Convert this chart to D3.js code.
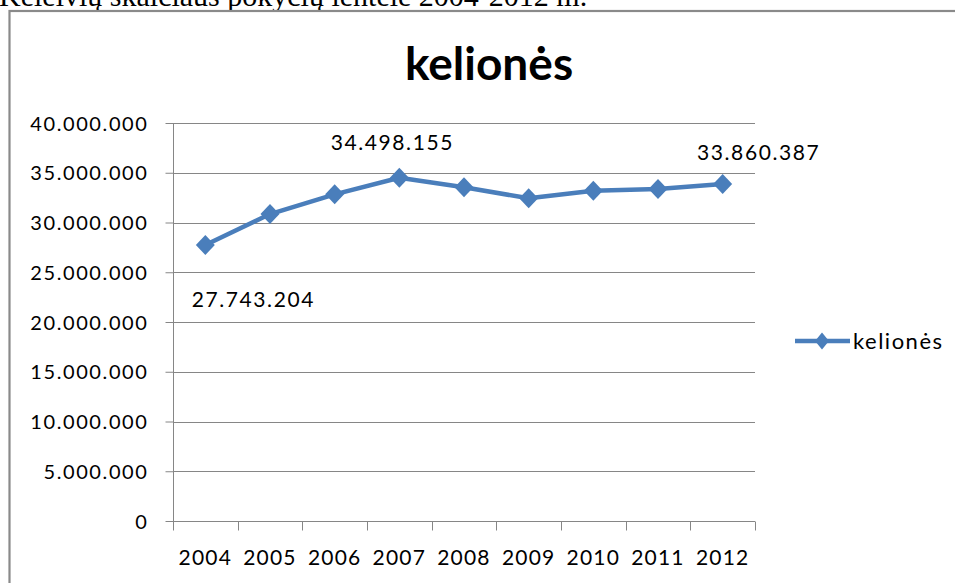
<!DOCTYPE html>
<html><head><meta charset="utf-8">
<script src="https://cdn.jsdelivr.net/npm/d3@7"></script>
<style>
html,body{margin:0;padding:0;background:#fff;overflow:hidden;}
svg{display:block;}
.lbl{font-family:Lato,"Open Sans",sans-serif;fill:#000;}
</style></head>
<body>
<svg id="c" width="955" height="583"></svg>
<script>
const caption = "Keleivių skaičiaus pokyčių lentelė 2004-2012 m.";
const title = "kelionės";
const seriesName = "kelionės";
const years = ["2004","2005","2006","2007","2008","2009","2010","2011","2012"];
const values = [27743204, 30850000, 32830000, 34498155, 33540000, 32430000, 33200000, 33370000, 33860387];
const yTicks = [0, 5000000, 10000000, 15000000, 20000000, 25000000, 30000000, 35000000, 40000000];
// labelled points: index, and label offset relative to the point
const labelled = [
  {i:0, dx:48, dy:62},
  {i:3, dx:-7, dy:-28},
  {i:8, dx:36, dy:-24}
];

const svg = d3.select("#c");
const fmt = v => d3.format(",")(v).replace(/,/g, ".");

// caption (cut off at the top, as in the source page)
svg.append("text").attr("x", -1).attr("y", 6)
  .attr("font-family", "'Liberation Serif','Times New Roman',serif")
  .attr("font-size", 30).attr("fill", "#000").text(caption);

// chart border
svg.append("rect").attr("x", 9.5).attr("y", 11).attr("width", 1000).attr("height", 1000)
  .attr("fill", "none").attr("stroke", "#8a8a8a").attr("stroke-width", 2.2);

const x = d3.scaleBand().domain(years).range([173, 755]).padding(0);
const y = d3.scaleLinear().domain([0, 40000000]).range([521, 123]);

// gridlines
svg.append("g").selectAll("line").data(yTicks.filter(d => d > 0)).join("line")
  .attr("x1", 173).attr("x2", 755)
  .attr("y1", d => Math.round(y(d)) + 0.5).attr("y2", d => Math.round(y(d)) + 0.5)
  .attr("stroke", "#868686").attr("stroke-width", 1);

// y axis
const yAxis = d3.axisLeft(y).tickValues(yTicks).tickFormat(fmt).tickSize(8).tickPadding(17);
const gy = svg.append("g").attr("transform", "translate(173.5,0)").call(yAxis);
gy.select(".domain").attr("stroke", "#868686").attr("d", "M0," + y(40000000) + "V" + (y(0)+9));
gy.selectAll(".tick line").attr("stroke", "#868686");
gy.selectAll(".tick text").attr("class", "lbl").attr("font-size", 20)
  .style("letter-spacing", "1.6px").attr("fill", "#000").attr("dy", "0.36em");

// x axis
const gx = svg.append("g").attr("transform", "translate(0," + (Math.round(y(0)) + 0.5) + ")");
gx.append("line").attr("x1", 173).attr("x2", 755).attr("stroke", "#868686");
const bounds = years.map(d => x(d)).concat([x.range()[1]]);
gx.selectAll("line.tk").data(bounds).join("line").attr("class", "tk")
  .attr("x1", d => Math.round(d) + 0.5).attr("x2", d => Math.round(d) + 0.5)
  .attr("y1", 0).attr("y2", 9).attr("stroke", "#868686");
gx.selectAll("text").data(years).join("text").attr("class", "lbl")
  .attr("x", d => x(d) + x.bandwidth() / 2).attr("y", 43)
  .attr("text-anchor", "middle").attr("font-size", 21).style("letter-spacing", "1.2px")
  .text(d => d);

// line
const color = "#4A7EBB";
const pts = years.map((d, i) => [x(d) + x.bandwidth() / 2, y(values[i])]);
svg.append("path").attr("d", d3.line()(pts)).attr("fill", "none")
  .attr("stroke", color).attr("stroke-width", 4.5).attr("stroke-linejoin", "round");
const diamond = (cx, cy, rx, ry) => `M${cx},${cy-ry}L${cx+rx},${cy}L${cx},${cy+ry}L${cx-rx},${cy}Z`;
svg.append("g").selectAll("path").data(pts).join("path")
  .attr("d", p => diamond(p[0], p[1], 9.5, 10)).attr("fill", color);

// data labels
svg.append("g").selectAll("text").data(labelled).join("text").attr("class", "lbl")
  .attr("x", d => pts[d.i][0] + d.dx).attr("y", d => pts[d.i][1] + d.dy)
  .attr("text-anchor", "middle").attr("font-size", 21).style("letter-spacing", "1.6px")
  .text(d => fmt(values[d.i]));

// title
svg.append("text").attr("class", "lbl").attr("x", 489).attr("y", 80)
  .attr("text-anchor", "middle").attr("font-size", 46).attr("font-weight", "bold")
  .text(title);

// legend
const lg = svg.append("g").attr("transform", "translate(795,341)");
lg.append("line").attr("x1", 0).attr("x2", 55).attr("stroke", color).attr("stroke-width", 4.5);
lg.append("path").attr("d", diamond(27, 0, 7, 8.5)).attr("fill", color);
lg.append("text").attr("class", "lbl").attr("x", 58).attr("y", 7.5)
  .attr("font-size", 22).style("letter-spacing", "1.5px").text(seriesName);
</script>
</body></html>
